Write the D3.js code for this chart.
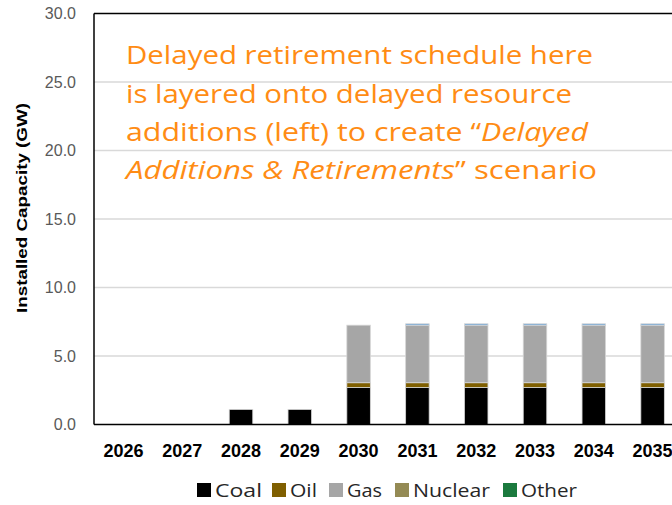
<!DOCTYPE html>
<html>
<head>
<meta charset="utf-8">
<script src="https://cdn.jsdelivr.net/npm/d3@7"></script>
<style>
  html, body { margin: 0; padding: 0; background: #fff; }
  svg { display: block; }
</style>
</head>
<body>
<svg id="chart" width="672" height="505"></svg>
<script>
// Installed capacity scheduled for retirement, by year and fuel (GW)
const years = ["2026", "2027", "2028", "2029", "2030", "2031", "2032", "2033", "2034", "2035"];
const coal    = [0, 0, 1.1, 1.1, 2.7, 2.7, 2.7, 2.7, 2.7, 2.7];
const oil     = [0, 0, 0, 0, 0.35, 0.35, 0.35, 0.35, 0.35, 0.35];
const gas     = [0, 0, 0, 0, 4.2, 4.2, 4.2, 4.2, 4.2, 4.2];
const nuclear = [0, 0, 0, 0, 0, 0, 0, 0, 0, 0];
const other   = [0, 0, 0, 0, 0, 0, 0, 0, 0, 0];
const storage = [0, 0, 0, 0, 0, 0.1, 0.1, 0.1, 0.1, 0.1];
const yTicks  = [0, 5, 10, 15, 20, 25, 30];

const seriesNames  = ["Coal", "Oil", "Gas", "Nuclear", "Other", "Storage"];
const seriesColors = ["#000000", "#7f5f00", "#a6a6a6", "#948a54", "#1b7a3e", "#5b9bd5"];
const legendNames  = ["Coal", "Oil", "Gas", "Nuclear", "Other"];
const seriesValues = [coal, oil, gas, nuclear, other, storage];

(function draw() {
  const rows = years.map((yr, i) => {
    const r = { year: yr };
    seriesNames.forEach((s, k) => { r[s] = seriesValues[k][i]; });
    return r;
  });

  const svg = d3.select("#chart");
  const plotLeft = 94, plotTop = 13.5, plotBottom = 424.5, plotRight = 682;

  const x = d3.scaleBand().domain(years).range([plotLeft, plotRight]).paddingInner(0.6).paddingOuter(0.3);
  const y = d3.scaleLinear().domain([0, 30]).range([plotBottom, plotTop]);

  // gridlines
  svg.append("g").selectAll("line")
    .data(yTicks.filter(t => t > 0 && t < 30))
    .join("line")
    .attr("x1", plotLeft).attr("x2", 672)
    .attr("y1", d => y(d)).attr("y2", d => y(d))
    .attr("stroke", "#d9d9d9").attr("stroke-width", 1.3);

  // stacked bars
  const stack = d3.stack().keys(seriesNames)(rows);
  svg.append("g").selectAll("g")
    .data(stack)
    .join("g")
    .attr("fill", (d, i) => seriesColors[i])
    .selectAll("rect")
    .data(d => d.filter(p => p[1] - p[0] > 0))
    .join("rect")
    .attr("x", d => x(d.data.year))
    .attr("width", x.bandwidth())
    .attr("y", d => y(d[1]))
    .attr("height", d => y(d[0]) - y(d[1]))
    .attr("stroke", "#d6d6d6")
    .attr("stroke-width", 0.8);

  // plot frame
  const frame = svg.append("g").attr("stroke", "#000").attr("stroke-width", 1.5);
  frame.append("line").attr("x1", plotLeft).attr("x2", plotLeft).attr("y1", plotTop).attr("y2", plotBottom);
  frame.append("line").attr("x1", plotLeft).attr("x2", 672).attr("y1", plotTop).attr("y2", plotTop);
  frame.append("line").attr("x1", plotLeft).attr("x2", 672).attr("y1", plotBottom).attr("y2", plotBottom);

  // y axis labels
  const yAxis = d3.axisLeft(y).tickValues(yTicks).tickFormat(d3.format(".1f")).tickSize(0).tickPadding(18);
  const gy = svg.append("g").attr("transform", `translate(${plotLeft},0)`).call(yAxis);
  gy.select(".domain").remove();
  gy.selectAll("text")
    .attr("font-family", "Liberation Sans, Arial, sans-serif")
    .attr("font-size", 16).attr("fill", "#595959");

  // x axis labels
  const xAxis = d3.axisBottom(x).tickSize(0).tickPadding(20);
  const gx = svg.append("g").attr("transform", `translate(0,${plotBottom})`).call(xAxis);
  gx.select(".domain").remove();
  gx.selectAll("text")
    .attr("font-family", "Liberation Sans, Arial, sans-serif")
    .attr("font-size", 18).attr("font-weight", "bold").attr("fill", "#000");

  // y axis title
  svg.append("text")
    .attr("transform", "translate(27,208) rotate(-90)")
    .attr("text-anchor", "middle")
    .attr("font-family", "Liberation Sans, Arial, sans-serif")
    .attr("font-size", 15).attr("font-weight", "bold").attr("fill", "#000")
    .attr("textLength", 210).attr("lengthAdjust", "spacingAndGlyphs")
    .text("Installed Capacity (GW)");

  // annotation
  const note = svg.append("g")
    .attr("font-family", "Open Sans, Noto Sans, sans-serif")
    .attr("font-size", 26).attr("fill", "#ff8c14");
  const noteLine = (yy, len) => note.append("text").attr("x", 126).attr("y", yy)
    .attr("textLength", len).attr("lengthAdjust", "spacingAndGlyphs");
  noteLine(64, 467).text("Delayed retirement schedule here");
  noteLine(103, 446).text("is layered onto delayed resource");
  const l3 = noteLine(141, 462);
  l3.append("tspan").text("additions (left) to create \u201c");
  l3.append("tspan").attr("font-style", "italic").text("Delayed");
  const l4 = noteLine(179, 471);
  l4.append("tspan").attr("font-style", "italic").text("Additions & Retirements");
  l4.append("tspan").text("\u201d scenario");

  // legend
  const legendX = [197, 272, 329, 395, 503];
  const legendLen = [47, 27, 35, 77, 56];
  const legend = svg.append("g");
  legendNames.forEach((n, i) => {
    const g = legend.append("g").attr("transform", `translate(${legendX[i]},483)`);
    g.append("rect").attr("width", 14).attr("height", 14).attr("fill", seriesColors[i]);
    g.append("text").attr("x", 18).attr("y", 14)
      .attr("font-family", "Open Sans, Noto Sans, sans-serif")
      .attr("font-size", 18).attr("fill", "#262626")
      .attr("textLength", legendLen[i]).attr("lengthAdjust", "spacingAndGlyphs")
      .text(n);
  });
})();
</script>
</body>
</html>
